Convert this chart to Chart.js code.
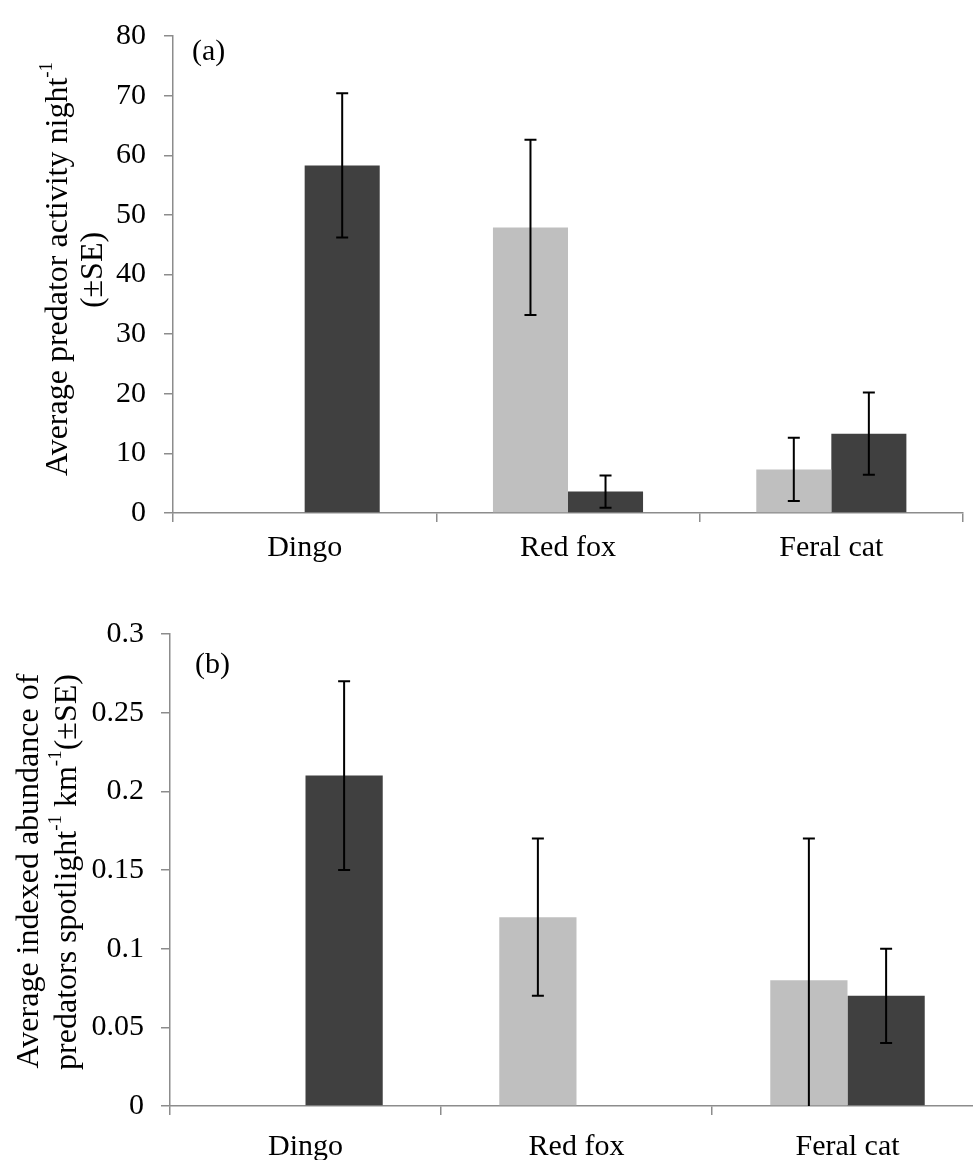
<!DOCTYPE html>
<html>
<head>
<meta charset="utf-8">
<script src="https://cdn.jsdelivr.net/npm/chart.js@4.4.0/dist/chart.umd.min.js"></script>
<style>
  html, body { margin: 0; padding: 0; background: #fff; overflow: hidden; }
  #panel-a { position: absolute; left: 0; top: 0; }
  #panel-b { position: absolute; left: 0; top: 580px; }
</style>
</head>
<body>
<canvas id="panel-a" width="973" height="580"></canvas>
<canvas id="panel-b" width="993" height="580"></canvas>
<script>
const categories = ["Dingo", "Red fox", "Feral cat"];

// (a) predator activity per night
const activityLight = [0, 47.9, 7.3];
const activityLightSE = [0, 14.7, 5.3];
const activityDark = [58.3, 3.6, 13.3];
const activityDarkSE = [12.1, 2.7, 6.9];
const activityTicks = [0, 10, 20, 30, 40, 50, 60, 70, 80];
const activityTickLabels = ["0", "10", "20", "30", "40", "50", "60", "70", "80"];

// (b) spotlight abundance
const spotlightLight = [0, 0.12, 0.08];
const spotlightLightSE = [0, 0.05, 0.09];
const spotlightDark = [0.21, 0, 0.07];
const spotlightDarkSE = [0.06, 0, 0.03];
const spotlightTicks = [0, 0.05, 0.1, 0.15, 0.2, 0.25, 0.3];
const spotlightTickLabels = ["0", "0.05", "0.1", "0.15", "0.2", "0.25", "0.3"];

const serif = "'Liberation Serif', 'Times New Roman', serif";
const mainFont = "30px " + serif;
const titleFont = "32px " + serif;
const supFont = "19px " + serif;
const axisGray = "#8c8c8c";

const errorBarPlugin = {
  id: "errorBars",
  afterDatasetsDraw(chart) {
    const ctx = chart.ctx;
    const yScale = chart.scales.y;
    ctx.save();
    ctx.strokeStyle = "#000";
    ctx.lineWidth = 2;
    chart.data.datasets.forEach((dataset, i) => {
      const meta = chart.getDatasetMeta(i);
      meta.data.forEach((bar, j) => {
        const se = dataset.errors[j];
        if (!se) return;
        const value = dataset.data[j];
        const top = yScale.getPixelForValue(value + se);
        const bottom = yScale.getPixelForValue(Math.max(0, value - se));
        ctx.beginPath();
        ctx.moveTo(bar.x, top);
        ctx.lineTo(bar.x, bottom);
        ctx.moveTo(bar.x - 6, top);
        ctx.lineTo(bar.x + 6, top);
        if (value - se >= 0) {
          ctx.moveTo(bar.x - 6, bottom);
          ctx.lineTo(bar.x + 6, bottom);
        }
        ctx.stroke();
      });
    });
    ctx.restore();
  },
};

// rotated y title with superscripts, plus the (a)/(b) panel label
const sideTitlePlugin = {
  id: "sideTitle",
  afterDraw(chart, args, opts) {
    const ctx = chart.ctx;
    ctx.save();
    ctx.fillStyle = "#000";
    ctx.textBaseline = "middle";
    ctx.textAlign = "left";
    opts.lines.forEach((line) => {
      let total = 0;
      line.parts.forEach((part) => {
        ctx.font = part.sup ? supFont : titleFont;
        total += ctx.measureText(part.text).width;
      });
      ctx.save();
      ctx.translate(line.x, line.y);
      ctx.rotate(-Math.PI / 2);
      let pos = -total / 2;
      line.parts.forEach((part) => {
        ctx.font = part.sup ? supFont : titleFont;
        ctx.fillText(part.text, pos, part.sup ? -12 : 0);
        pos += ctx.measureText(part.text).width;
      });
      ctx.restore();
    });
    ctx.font = mainFont;
    ctx.fillText(opts.panel.text, opts.panel.x, opts.panel.y);
    ctx.restore();
  },
};

function buildChart(canvas, settings) {
  const font = { family: serif, size: 30 };
  return new Chart(canvas.getContext("2d"), {
    type: "bar",
    data: {
      labels: categories,
      datasets: [
        { data: settings.light, errors: settings.lightSE, backgroundColor: "#bfbfbf" },
        { data: settings.dark, errors: settings.darkSE, backgroundColor: "#404040" },
      ],
    },
    options: {
      responsive: false,
      animation: false,
      layout: { padding: settings.padding },
      datasets: { bar: { categoryPercentage: 0.57, barPercentage: 1 } },
      plugins: {
        legend: { display: false },
        tooltip: { enabled: false },
        sideTitle: { lines: settings.titleLines, panel: settings.panel },
      },
      scales: {
        x: {
          grid: {
            offset: true,
            drawOnChartArea: false,
            tickLength: 9,
            color: axisGray,
            lineWidth: 1.5,
          },
          border: { color: axisGray, width: 1.5 },
          ticks: { font: font, color: "#000", padding: settings.xPadding },
          afterFit: (scale) => {
            scale.height = settings.xHeight;
          },
        },
        y: {
          min: 0,
          max: settings.ticks[settings.ticks.length - 1],
          afterBuildTicks: (scale) => {
            scale.ticks = settings.ticks.map((v) => ({ value: v }));
          },
          ticks: {
            font: font,
            color: "#000",
            padding: settings.yPadding,
            callback: (value, index) => settings.tickLabels[index],
          },
          grid: {
            drawOnChartArea: false,
            tickLength: 9,
            color: axisGray,
            lineWidth: 1.5,
          },
          border: { color: axisGray, width: 1.5 },
          afterFit: (scale) => {
            scale.width = settings.yWidth;
          },
        },
      },
    },
    plugins: [errorBarPlugin, sideTitlePlugin],
  });
}

buildChart(document.getElementById("panel-a"), {
  light: activityLight,
  lightSE: activityLightSE,
  dark: activityDark,
  darkSE: activityDarkSE,
  ticks: activityTicks,
  tickLabels: activityTickLabels,
  padding: { top: 25, right: 10, left: 0, bottom: 0 },
  xHeight: 67,
  yWidth: 173,
  xPadding: 8,
  yPadding: 18,
  titleLines: [
    { x: 59, y: 269, parts: [{ text: "Average predator activity night" }, { text: "-1", sup: true }] },
    { x: 94, y: 270, parts: [{ text: "(±SE)" }] },
  ],
  panel: { text: "(a)", x: 192, y: 52 },
});

buildChart(document.getElementById("panel-b"), {
  light: spotlightLight,
  lightSE: spotlightLightSE,
  dark: spotlightDark,
  darkSE: spotlightDarkSE,
  ticks: spotlightTicks,
  tickLabels: spotlightTickLabels,
  padding: { top: 54, right: 10, left: 0, bottom: 0 },
  xHeight: 54,
  yWidth: 170,
  xPadding: 14,
  yPadding: 17,
  titleLines: [
    { x: 30, y: 291, parts: [{ text: "Average indexed abundance of" }] },
    {
      x: 68,
      y: 292,
      parts: [
        { text: "predators spotlight" },
        { text: "-1", sup: true },
        { text: " km" },
        { text: "-1", sup: true },
        { text: "(±SE)" },
      ],
    },
  ],
  panel: { text: "(b)", x: 195, y: 85 },
});
</script>
</body>
</html>
